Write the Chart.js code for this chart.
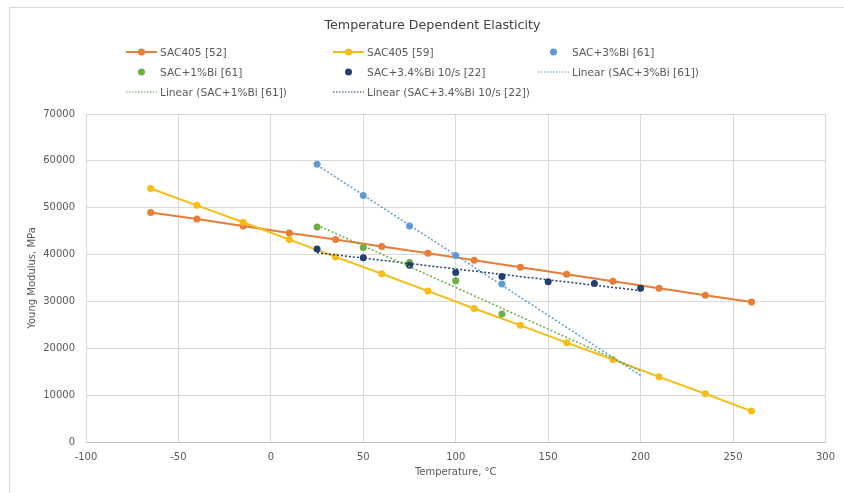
<!DOCTYPE html>
<html>
<head>
<meta charset="utf-8">
<script src="https://cdn.jsdelivr.net/npm/chart.js@4/dist/chart.umd.min.js"></script>
<style>
html,body{margin:0;padding:0;background:#fff;}
#wrap{position:relative;width:844px;height:493px;overflow:hidden;font-family:"DejaVu Sans",Verdana,sans-serif;background:#fff;}
#frame{position:absolute;left:9px;top:7px;width:900px;height:600px;border:1px solid #d9d9d9;box-sizing:border-box;}
#chart{position:absolute;left:0;top:0;}
#title{position:absolute;left:0;top:17px;width:865px;text-align:center;font-size:12.7px;line-height:16px;color:#404040;white-space:nowrap;}
.leg{position:absolute;display:flex;align-items:center;height:14px;font-size:10.6px;color:#595959;white-space:nowrap;}
.leg svg{display:block;margin-right:3px;}
</style>
</head>
<body>
<div id="wrap">
  <div id="frame"></div>
  <canvas id="chart" width="844" height="493"></canvas>
  <div id="title">Temperature Dependent Elasticity</div>
  <div id="legend"></div>
</div>
<script>
// ---- data ----
const chartTitle = "Temperature Dependent Elasticity";
const xAxisTitle = "Temperature, °C";
const yAxisTitle = "Young Modulus, MPa";

const tempSAC405 = [-65, -40, -15, 10, 35, 60, 85, 110, 135, 160, 185, 210, 235, 260];
const modSAC405_52 = [49000, 47600, 46100, 44600, 43200, 41700, 40300, 38800, 37300, 35800, 34300, 32800, 31300, 29900];
const modSAC405_59 = [54100, 50500, 46900, 43200, 39500, 35900, 32200, 28500, 24900, 21200, 17600, 13900, 10300, 6600];

const tempBi3 = [25, 50, 75, 100, 125];
const modBi3 = [59300, 52600, 46100, 39800, 33700];

const tempBi1 = [25, 50, 75, 100, 125];
const modBi1 = [45900, 41500, 38300, 34400, 27300];

const tempBi34 = [25, 50, 75, 100, 125, 150, 175, 200];
const modBi34 = [41200, 39300, 37700, 36200, 35300, 34200, 33800, 32800];

// trend line end points (as drawn in the reference)
const trendTemp = [25, 200];
const trendBi3 = [59100, 14200];
const trendBi1 = [46300, 15200];
const trendBi34 = [40400, 32300];

const xMin = -100, xMax = 300, xStep = 50;
const yMin = 0, yMax = 70000, yStep = 10000;

const seriesNames = ["SAC405 [52]", "SAC405 [59]", "SAC+3%Bi [61]", "SAC+1%Bi [61]",
  "SAC+3.4%Bi 10/s [22]", "Linear (SAC+3%Bi [61])", "Linear (SAC+1%Bi [61])", "Linear (SAC+3.4%Bi 10/s [22])"];
const seriesColors = ["#E97C36", "#F5BD16", "#5E9BD3", "#6FAD45", "#233F6E", "#5E9BD3", "#6FAD45", "#233F6E"];
const seriesKinds = ["line", "line", "dot", "dot", "dot", "trend", "trend", "trend"];

// ---- build ----
function pts(xs, ys){ return xs.map((x,i)=>({x:x, y:ys[i]})); }
const seriesData = [
  pts(tempSAC405, modSAC405_52),
  pts(tempSAC405, modSAC405_59),
  pts(tempBi3, modBi3),
  pts(tempBi1, modBi1),
  pts(tempBi34, modBi34),
  pts(trendTemp, trendBi3),
  pts(trendTemp, trendBi1),
  pts(trendTemp, trendBi34)
];

const datasets = seriesData.map((d,i)=>{
  const kind = seriesKinds[i], c = seriesColors[i];
  const ds = {label: seriesNames[i], data: d, borderColor: c, backgroundColor: c,
    pointBackgroundColor: c, pointBorderColor: c, order: 20 - i};
  if (kind === "line") { Object.assign(ds, {showLine:true, borderWidth:2, pointRadius:3.5, pointBorderWidth:0}); }
  else if (kind === "dot") { Object.assign(ds, {showLine:false, pointRadius:3.5, pointBorderWidth:0}); }
  else { Object.assign(ds, {showLine:true, borderWidth:1.5, borderDash:[2,2], pointRadius:0, order: 1}); }
  return ds;
});

const FONT = "'DejaVu Sans', Verdana, sans-serif";
const TXT = "#595959";

new Chart(document.getElementById("chart"), {
  type: "scatter",
  data: {datasets: datasets},
  options: {
    responsive: false,
    animation: false,
    layout: {padding: {left: 10, top: 114, right: 17, bottom: 6}},
    plugins: {legend: {display: false}, title: {display: false}, tooltip: {enabled: false}},
    events: [],
    scales: {
      x: {
        type: "linear", min: xMin, max: xMax,
        ticks: {stepSize: xStep, color: TXT, font: {family: FONT, size: 10}, padding: 9, maxRotation: 0,
                callback: v => String(v)},
        grid: {color: "#d9d9d9", drawTicks: false, lineWidth: 1},
        border: {color: "#bfbfbf", width: 1},
        title: {display: true, text: xAxisTitle, color: TXT, font: {family: FONT, size: 10}, padding: {top: 0, bottom: 9}},
        afterFit: s => { s.height = 45; }
      },
      y: {
        type: "linear", min: yMin, max: yMax,
        ticks: {stepSize: yStep, color: TXT, font: {family: FONT, size: 10}, padding: 11,
                callback: v => String(v)},
        grid: {color: "#d9d9d9", drawTicks: false, lineWidth: 1},
        border: {color: "#d9d9d9", width: 1},
        title: {display: true, text: yAxisTitle, color: TXT, font: {family: FONT, size: 10}, padding: {top: 16, bottom: 0}},
        afterFit: s => { s.width = 76; }
      }
    }
  }
});

// ---- legend (3-column grid like the reference) ----
const legCols = [126, 333, 538];
const legRows = [51.5, 71.5, 91.5];
const leg = document.getElementById("legend");
seriesNames.forEach((name, i) => {
  const col = i % 3, row = Math.floor(i / 3);
  const c = seriesColors[i], kind = seriesKinds[i];
  let svg = '<svg width="31" height="10" viewBox="0 0 31 10">';
  if (kind === "line") svg += '<line x1="0" y1="5" x2="31" y2="5" stroke="'+c+'" stroke-width="2"/><circle cx="15.5" cy="5" r="3.5" fill="'+c+'"/>';
  else if (kind === "dot") svg += '<circle cx="15.5" cy="5" r="3.5" fill="'+c+'"/>';
  else svg += '<line x1="0" y1="5" x2="31" y2="5" stroke="'+c+'" stroke-width="1.2" stroke-dasharray="1.5 1.5"/>';
  svg += '</svg>';
  const el = document.createElement("div");
  el.className = "leg";
  el.style.left = legCols[col] + "px";
  el.style.top = (legRows[row] - 7) + "px";
  el.innerHTML = svg + '<span></span>';
  el.querySelector("span").textContent = name;
  leg.appendChild(el);
});
</script>
</body>
</html>
